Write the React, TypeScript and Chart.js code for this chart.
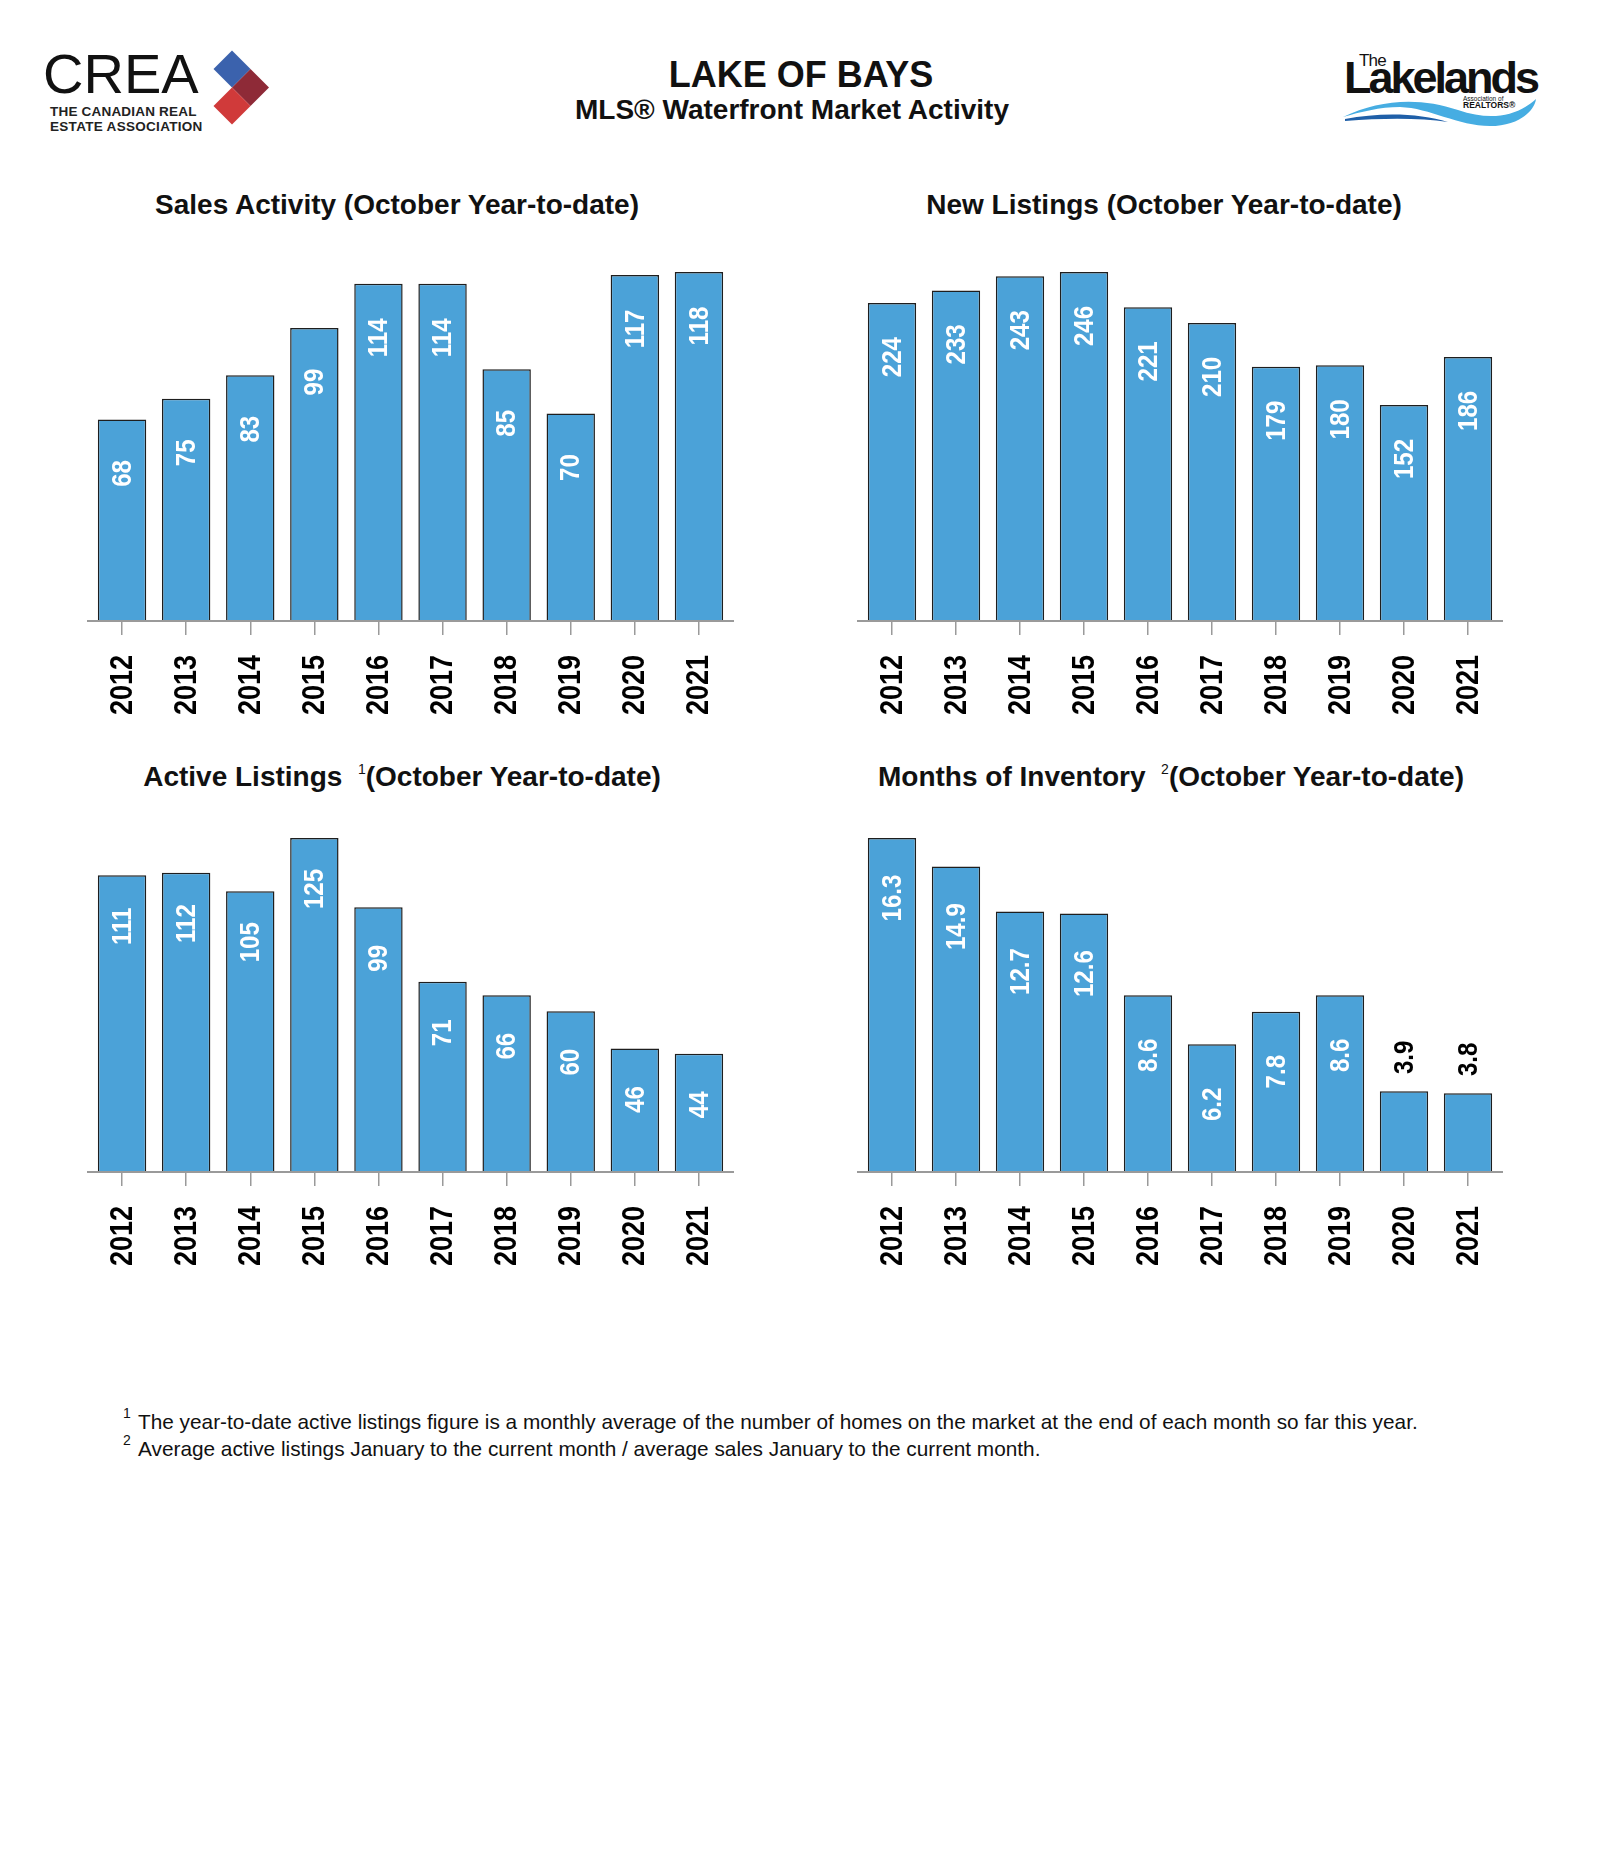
import React, { useEffect, useRef } from "react";
import { Chart, registerables } from "chart.js";

Chart.register(...registerables);

// ---------------- data ----------------
const years = ["2012", "2013", "2014", "2015", "2016", "2017", "2018", "2019", "2020", "2021"];
const salesActivity = [68, 75, 83, 99, 114, 114, 85, 70, 117, 118];
const newListings = [224, 233, 243, 246, 221, 210, 179, 180, 152, 186];
const activeListings = [111, 112, 105, 125, 99, 71, 66, 60, 46, 44];
const monthsOfInventory = [16.3, 14.9, 12.7, 12.6, 8.6, 6.2, 7.8, 8.6, 3.9, 3.8];

const FONT = '"Liberation Sans", Arial, Helvetica, sans-serif';
const BAR = "#4ba2d8";
const EDGE = "#1e1e1e";
const AXIS = "#9a9a9a";

const barLabelPlugin = {
  id: "barLabels",
  beforeDatasetsDraw(chart: any, _args: any, opts: any) {
    const { ctx, chartArea } = chart;
    ctx.save();
    ctx.strokeStyle = AXIS;
    ctx.lineWidth = 2;
    ctx.beginPath();
    ctx.moveTo(chartArea.left - opts.ext, chartArea.bottom + 1);
    ctx.lineTo(chartArea.right + opts.ext, chartArea.bottom + 1);
    ctx.stroke();
    ctx.restore();
  },
  afterDatasetsDraw(chart: any, _args: any, opts: any) {
    const { ctx, chartArea } = chart;
    const meta = chart.getDatasetMeta(0);
    const data = chart.data.datasets[0].data as number[];
    const max = chart.scales.y.max;
    const xs = chart.scales.x;
    ctx.save();
    // value labels
    ctx.font = `bold 28px ${FONT}`;
    ctx.textAlign = "center";
    ctx.textBaseline = "middle";
    meta.data.forEach((bar: any, i: number) => {
      const v = data[i];
      const inside = v / max >= 0.3;
      const y = inside ? bar.y + opts.offset : bar.y - opts.above;
      ctx.save();
      ctx.translate(bar.x, y);
      ctx.rotate(-Math.PI / 2);
      ctx.scale(0.86, 1);
      ctx.fillStyle = inside ? "#ffffff" : "#000000";
      ctx.fillText(v.toFixed(opts.decimals), 0, 1);
      ctx.restore();
    });
    // year (category) labels, slightly condensed
    ctx.font = `bold 31px ${FONT}`;
    ctx.textAlign = "right";
    ctx.textBaseline = "middle";
    ctx.fillStyle = "#000";
    (chart.data.labels as string[]).forEach((lab: string, i: number) => {
      const x = xs.getPixelForTick(i);
      ctx.save();
      ctx.translate(x, chartArea.bottom + 35);
      ctx.rotate(-Math.PI / 2);
      ctx.scale(0.87, 1);
      ctx.fillText(lab, 0, 1);
      ctx.restore();
    });
    ctx.restore();
  },
};

type Area = { l: number; r: number; t: number; b: number };

function BarPanel({ values, area, offset, decimals }: { values: number[]; area: Area; offset: number; decimals: number }) {
  const ref = useRef<HTMLCanvasElement>(null);
  const PAD = 30;
  const AXIS_H = 110;
  const w = area.r - area.l + 2 * PAD;
  const h = area.b - area.t + PAD + AXIS_H;
  useEffect(() => {
    const max = Math.max(...values);
    const chart = new Chart(ref.current as HTMLCanvasElement, {
      type: "bar",
      data: {
        labels: years,
        datasets: [
          {
            data: values,
            backgroundColor: BAR,
            borderColor: EDGE,
            borderWidth: 1.5,
            borderSkipped: "start",
            barPercentage: 0.755,
            categoryPercentage: 1,
            clip: false as any,
          },
        ],
      },
      options: {
        responsive: false,
        animation: false,
        layout: { padding: { left: PAD, right: PAD, top: PAD, bottom: 0 } },
        plugins: {
          legend: { display: false },
          tooltip: { enabled: false },
          title: { display: false },
          barLabels: { offset, above: 34, decimals, ext: 3 },
        } as any,
        scales: {
          x: {
            type: "category",
            offset: true,
            grid: {
              offset: false,
              drawOnChartArea: false,
              drawTicks: true,
              tickLength: 15,
              color: AXIS,
              lineWidth: 1.5,
            },
            border: { display: false },
            ticks: { display: false, autoSkip: false },
            afterFit: (s: any) => {
              s.height = AXIS_H;
              s.paddingLeft = 0;
              s.paddingRight = 0;
            },
          },
          y: { display: false, min: 0, max },
        },
      },
      plugins: [barLabelPlugin],
    });
    return () => chart.destroy();
  }, []);
  return (
    <canvas
      ref={ref}
      width={w}
      height={h}
      style={{ position: "absolute", left: area.l - PAD, top: area.t - PAD, width: w, height: h, display: "block" }}
    />
  );
}

function Title({ cx, top, children }: { cx: number; top: number; children: React.ReactNode }) {
  return (
    <div
      style={{
        position: "absolute",
        left: cx - 400,
        top,
        width: 800,
        textAlign: "center",
        fontFamily: FONT,
        fontWeight: "bold",
        fontSize: 28,
        lineHeight: "28px",
        color: "#111",
        whiteSpace: "nowrap",
      }}
    >
      {children}
    </div>
  );
}

const Sup = ({ n }: { n: string }) => (
  <span style={{ fontSize: 14, fontWeight: "normal", position: "relative", top: -12 }}>{n}</span>
);

function CreaLogo() {
  const s = 18.5;
  const sq = (cx: number, cy: number) => `${cx},${cy - s} ${cx + s},${cy} ${cx},${cy + s} ${cx - s},${cy}`;
  return (
    <>
      <div style={{ position: "absolute", left: 43, top: 46, fontFamily: FONT, fontSize: 56, lineHeight: "56px", color: "#111" }}>
        CREA
      </div>
      <div style={{ position: "absolute", left: 50, top: 104.5, fontFamily: FONT, fontWeight: "bold", fontSize: 13.5, lineHeight: "14px", letterSpacing: 0.2, color: "#222" }}>
        THE CANADIAN REAL
      </div>
      <div style={{ position: "absolute", left: 50, top: 119.5, fontFamily: FONT, fontWeight: "bold", fontSize: 13.5, lineHeight: "14px", letterSpacing: 0.3, color: "#222" }}>
        ESTATE ASSOCIATION
      </div>
      <svg style={{ position: "absolute", left: 0, top: 0 }} width={300} height={140}>
        <polygon points={sq(232, 69)} fill="#3b62ad" />
        <polygon points={sq(250.5, 87.5)} fill="#8e2a37" />
        <polygon points={sq(232, 106)} fill="#d03a3a" />
      </svg>
    </>
  );
}

function LakelandsLogo() {
  return (
    <>
      <svg style={{ position: "absolute", left: 1330, top: 40 }} width={230} height={100} viewBox="1330 40 230 100">
        <path d="M1343,117 C1380,99 1420,97 1458,110 C1490,121 1516,117 1536,99 C1534,113 1516,126 1490,126 C1458,126 1430,108 1400,107 C1380,107 1360,112 1343,117 Z" fill="#46ade2" />
        <path d="M1345,119 C1380,112 1420,113 1448,122 C1420,118 1385,118 1345,121 Z" fill="#1f5fa8" />
      </svg>
      <div style={{ position: "absolute", left: 1359, top: 52, fontFamily: FONT, fontSize: 17, lineHeight: "17px", letterSpacing: -0.8, color: "#111" }}>
        The
      </div>
      <div style={{ position: "absolute", left: 1344, top: 54.6, fontFamily: FONT, fontWeight: "bold", fontSize: 45, lineHeight: "45px", letterSpacing: -3, color: "#111" }}>
        Lakelands
      </div>
      <div style={{ position: "absolute", left: 1463, top: 95, fontFamily: FONT, fontSize: 6.5, lineHeight: "7px", color: "#111" }}>
        Association of
      </div>
      <div style={{ position: "absolute", left: 1463, top: 101, fontFamily: FONT, fontWeight: "bold", fontSize: 8.5, lineHeight: "9px", color: "#111" }}>
        REALTORS®
      </div>
    </>
  );
}

export default function App() {
  return (
    <div style={{ position: "absolute", left: 0, top: 0, width: 1600, height: 1867, background: "#fff", overflow: "hidden" }}>
      <CreaLogo />
      <LakelandsLogo />
      <div style={{ position: "absolute", left: 401, top: 56.5, width: 800, textAlign: "center", fontFamily: FONT, fontWeight: "bold", fontSize: 36, lineHeight: "36px", color: "#111" }}>
        LAKE OF BAYS
      </div>
      <div style={{ position: "absolute", left: 392, top: 96.3, width: 800, textAlign: "center", fontFamily: FONT, fontWeight: "bold", fontSize: 28, lineHeight: "28px", color: "#111" }}>
        MLS® Waterfront Market Activity
      </div>

      <Title cx={397} top={191.3}>Sales Activity (October Year-to-date)</Title>
      <Title cx={1164} top={191.3}>New Listings (October Year-to-date)</Title>
      <Title cx={402} top={763}>
        Active Listings{"\u00a0\u00a0"}
        <Sup n="1" />
        (October Year-to-date)
      </Title>
      <Title cx={1171} top={763}>
        Months of Inventory{"\u00a0\u00a0"}
        <Sup n="2" />
        (October Year-to-date)
      </Title>

      <BarPanel values={salesActivity} area={{ l: 90, r: 731, t: 272, b: 620 }} offset={54} decimals={0} />
      <BarPanel values={newListings} area={{ l: 860, r: 1500, t: 272, b: 620 }} offset={54} decimals={0} />
      <BarPanel values={activeListings} area={{ l: 90, r: 731, t: 838, b: 1171 }} offset={51} decimals={0} />
      <BarPanel values={monthsOfInventory} area={{ l: 860, r: 1500, t: 838, b: 1171 }} offset={60} decimals={1} />

      <div style={{ position: "absolute", left: 123, top: 1406, fontFamily: FONT, fontSize: 14, lineHeight: "14px", color: "#111" }}>1</div>
      <div style={{ position: "absolute", left: 138, top: 1410.5, fontFamily: FONT, fontSize: 20.8, lineHeight: "21px", color: "#111", whiteSpace: "nowrap" }}>
        The year-to-date active listings figure is a monthly average of the number of homes on the market at the end of each month so far this year.
      </div>
      <div style={{ position: "absolute", left: 123, top: 1433, fontFamily: FONT, fontSize: 14, lineHeight: "14px", color: "#111" }}>2</div>
      <div style={{ position: "absolute", left: 138, top: 1437.5, fontFamily: FONT, fontSize: 20.8, lineHeight: "21px", color: "#111", whiteSpace: "nowrap" }}>
        Average active listings January to the current month / average sales January to the current month.
      </div>
    </div>
  );
}
